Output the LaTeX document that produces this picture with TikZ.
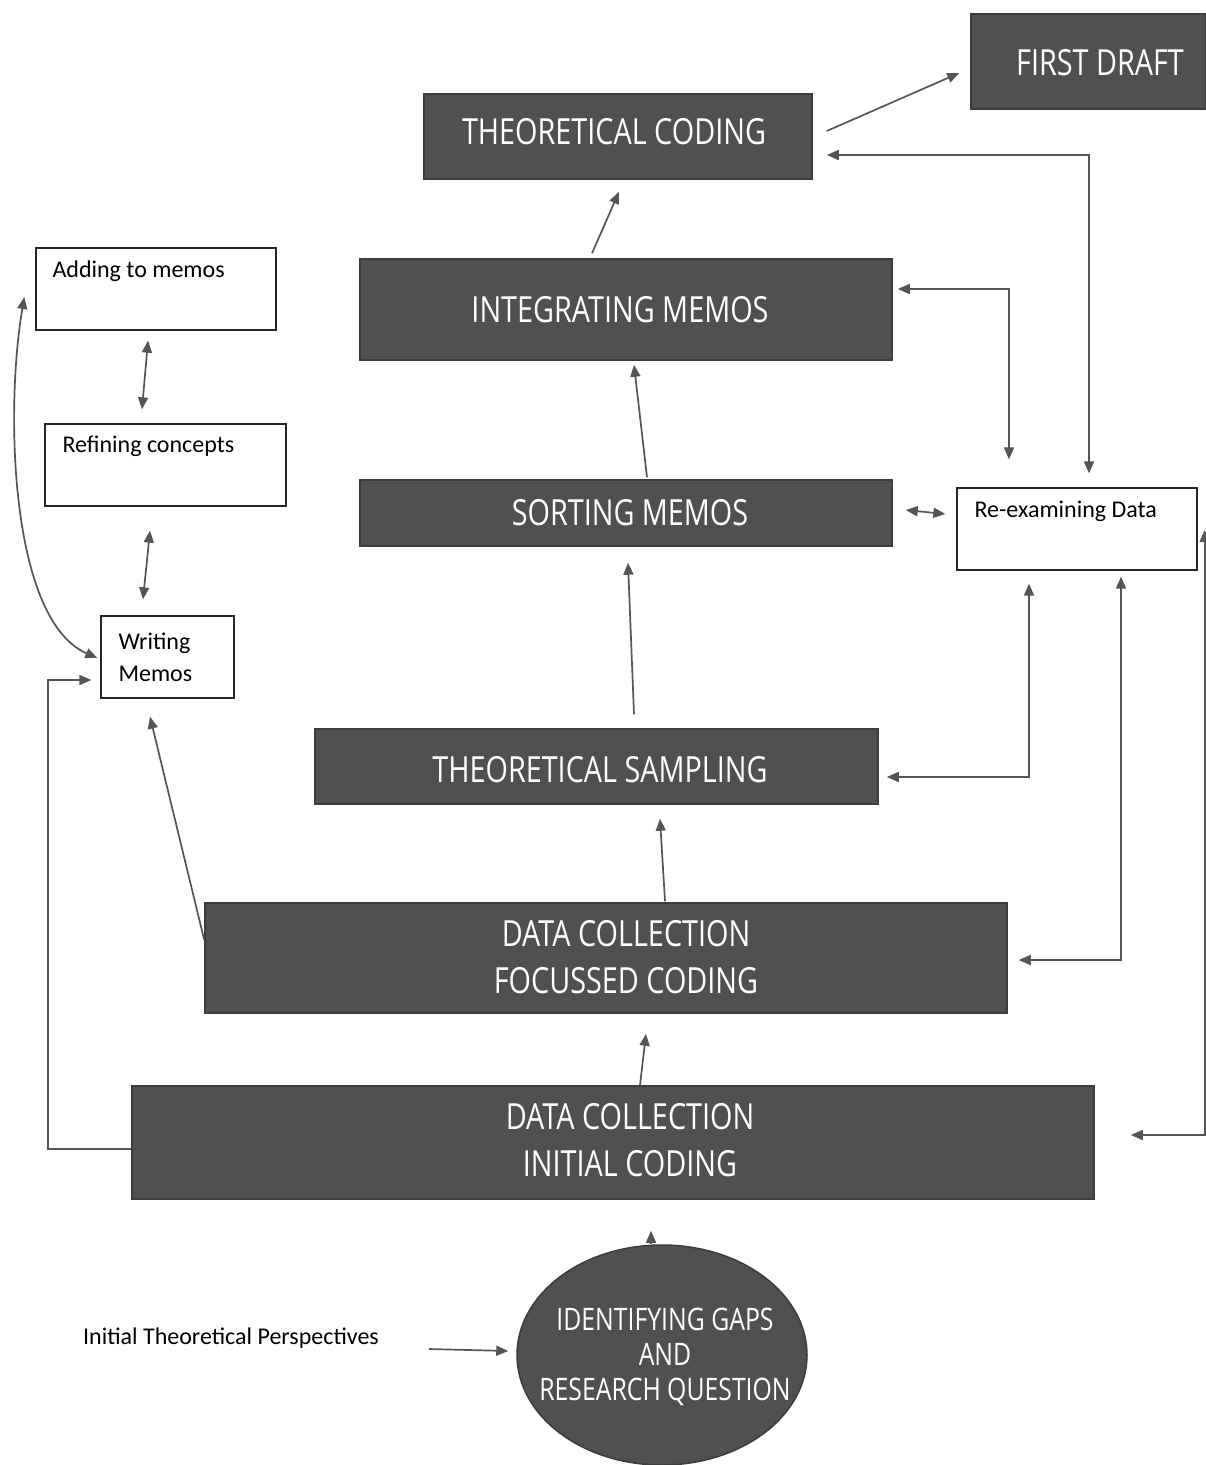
\documentclass[tikz,border=0pt]{standalone}
\usepackage{fontspec}
\usetikzlibrary{arrows.meta,shapes.geometric}
\newfontfamily\boxfont[FakeStretch=0.8]{Open Sans}
\newfontfamily\lblfont{Carlito}
\definecolor{boxfill}{HTML}{505050}
\definecolor{boxline}{HTML}{3C3C3C}
\definecolor{linec}{HTML}{555555}
\tikzset{
  darkbox/.style={draw=boxline, fill=boxfill, line width=1.5pt, inner sep=0pt},
  boxtext/.style={text=white, inner sep=0pt, align=center, font=\boxfont\fontsize{36}{47}\selectfont},
  whitebox/.style={draw=black!85, fill=white, line width=1.3pt, inner sep=0pt},
  lbl/.style={font=\lblfont\fontsize{24}{32}\selectfont, text=black, inner sep=0pt, align=left},
  arr/.style={draw=linec, line width=1.7pt, -{Triangle[length=12pt,width=10pt]}},
  biarr/.style={draw=linec, line width=1.7pt, {Triangle[length=12pt,width=10pt]}-{Triangle[length=12pt,width=10pt]}}
}
\begin{document}
\begin{tikzpicture}[x=1pt,y=-1pt]
\useasboundingbox[fill=white] (0,0) rectangle (1206,1465);

% dark boxes
\node[darkbox, minimum width=235pt, minimum height=95pt] (fd) at (1088.5,61.5) {};
\node[boxtext] (fdt) at (1100,63) {FIRST DRAFT};
\node[darkbox, minimum width=388pt, minimum height=85pt] (tc) at (618,136.5) {};
\node[boxtext] (tct) at (614,132) {THEORETICAL CODING};
\node[darkbox, minimum width=532pt, minimum height=101pt] (im) at (626,309.5) {};
\node[boxtext] (imt) at (620,310) {INTEGRATING MEMOS};
\node[darkbox, minimum width=532pt, minimum height=66pt] (sm) at (626,513) {};
\node[boxtext] (smt) at (630,513) {SORTING MEMOS};
\node[darkbox, minimum width=563pt, minimum height=75pt] (ts) at (596.5,766.5) {};
\node[boxtext] (tst) at (600,770) {THEORETICAL SAMPLING};
\node[darkbox, minimum width=802pt, minimum height=110pt] (dcfc) at (606,958) {};
\node[boxtext] (dcfct) at (626,957.5) {DATA COLLECTION\\FOCUSSED CODING};
\node[darkbox, minimum width=962pt, minimum height=113pt] (dcic) at (613,1142.5) {};
\node[boxtext] (dcict) at (630,1140.5) {DATA COLLECTION\\INITIAL CODING};
\node[darkbox, ellipse, minimum width=290pt, minimum height=220pt] (idg) at (662,1355) {};
\node[boxtext, font=\boxfont\fontsize{31}{35}\selectfont] (idgt) at (665,1357) {IDENTIFYING GAPS\\AND\\RESEARCH QUESTION};

% white boxes
\node[whitebox, minimum width=240pt, minimum height=82pt] (reex) at (1077,529) {};
\node[lbl, anchor=west] (reext) at ([xshift=18pt,yshift=-24pt]reex.north west) {Re-examining Data};
\node[whitebox, minimum width=240pt, minimum height=82pt] (am) at (156,289) {};
\node[lbl, anchor=west] (amt) at ([xshift=17pt,yshift=-24pt]am.north west) {Adding to memos};
\node[whitebox, minimum width=241pt, minimum height=82pt] (rc) at (165.5,465) {};
\node[lbl, anchor=west] (rct) at ([xshift=18pt,yshift=-23pt]rc.north west) {Refining concepts};
\node[whitebox, minimum width=133pt, minimum height=82pt] (wm) at (167.5,657) {};
\node[lbl, anchor=west] (wmt) at ([xshift=18pt]wm.west) {Writing\\Memos};

\node[font=\lblfont\fontsize{24}{28}\selectfont, inner sep=0pt] (itp) at (231,1338) {Initial Theoretical Perspectives};

% main upward arrows
\draw[arr] ([xshift=-11pt]idg.north) -- ([xshift=38pt,yshift=-31pt]dcic.south);
\draw[arr] ([xshift=27pt]dcic.north) -- ([xshift=40pt,yshift=-20pt]dcfc.south);
\draw[arr] ([xshift=59pt,yshift=1pt]dcfc.north) -- ([xshift=63.5pt,yshift=-14pt]ts.south);
\draw[arr] ([xshift=37.5pt,yshift=14pt]ts.north) -- ([xshift=2pt,yshift=-16pt]sm.south);
\draw[arr] ([xshift=21pt,yshift=2pt]sm.north) -- ([xshift=8pt,yshift=-4pt]im.south);
\draw[arr] ([xshift=-34pt,yshift=5pt]im.north) -- ([xshift=1pt,yshift=-12pt]tc.south);
\draw[arr] ([xshift=14pt,yshift=5.5pt]tc.east) -- ([xshift=-11pt,yshift=-11.5pt]fd.west);
\draw[arr] ([xshift=50pt,yshift=-11pt]itp.east) -- ([xshift=-8pt,yshift=4pt]idg.west);

% re-examining data links
\draw[biarr] ([xshift=12pt,yshift=14pt]reex.north) |- ([xshift=14pt,yshift=-18.5pt]tc.east);
\draw[biarr] ([xshift=-68pt,yshift=28pt]reex.north) |- ([xshift=5pt,yshift=20.5pt]im.east);
\draw[biarr] ([xshift=13pt,yshift=3pt]sm.east) -- ([xshift=-11pt,yshift=15pt]reex.west);
\draw[biarr] ([xshift=-48pt,yshift=-13pt]reex.south) |- ([xshift=8pt,yshift=-10.5pt]ts.east);
\draw[biarr] ([xshift=44pt,yshift=-6pt]reex.south) |- ([xshift=11pt,yshift=-2pt]dcfc.east);
\draw[biarr] ([xshift=7pt,yshift=-1pt]reex.east) |- ([xshift=36pt,yshift=7.5pt]dcic.east);

% memo links
\draw[arr] ([yshift=-6.5pt]dcic.west) -- ++(-83,0) |- ([xshift=-9pt,yshift=-23pt]wm.west);
\draw[arr] ([yshift=18pt]dcfc.west) -- ([xshift=-17.5pt,yshift=-18pt]wm.south);
\draw[biarr] ([xshift=-8pt,yshift=-10pt]am.south) -- ([xshift=-23.5pt,yshift=14pt]rc.north);
\draw[biarr] ([xshift=-15.5pt,yshift=-24pt]rc.south) -- ([xshift=-24.5pt,yshift=16pt]wm.north);
\draw[biarr] ([xshift=-3pt,yshift=-1pt]wm.west) .. controls (10,620) and (5,410) .. ([xshift=-11pt,yshift=-8pt]am.west);
\end{tikzpicture}
\end{document}
